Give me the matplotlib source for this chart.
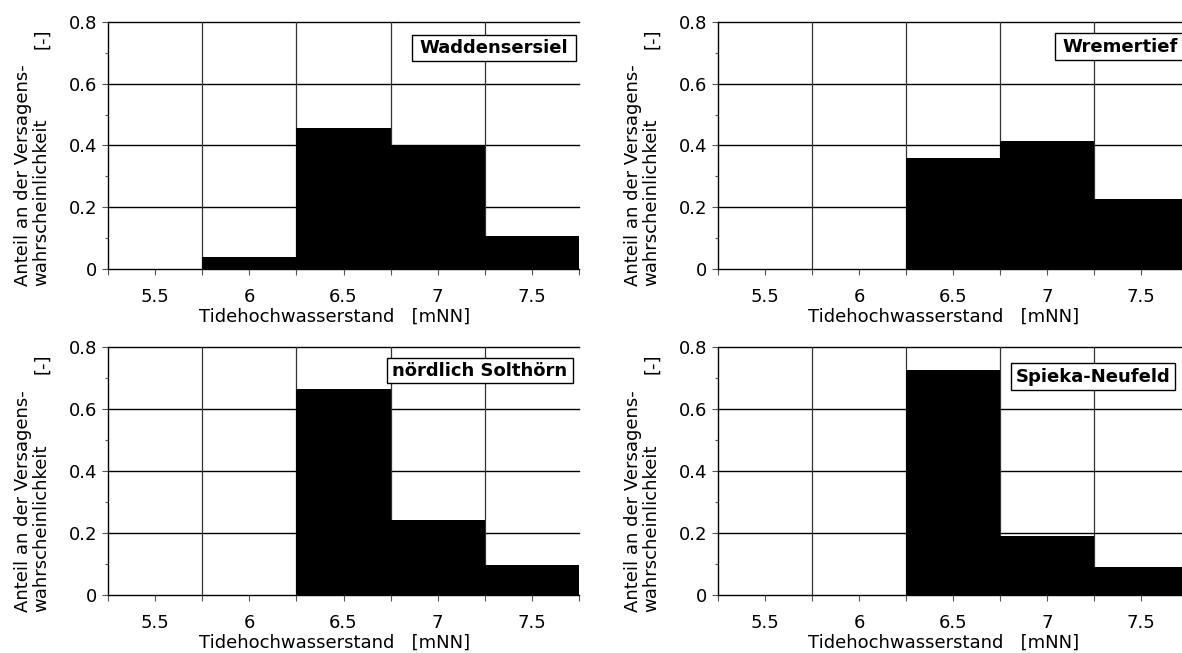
import matplotlib
matplotlib.use("Agg")
import matplotlib.pyplot as plt
from matplotlib.patches import Rectangle
from matplotlib.ticker import FixedLocator

plt.rcParams['font.family'] = ['DejaVu Sans']

# ---- data ----
water_levels = [5.5, 6.0, 6.5, 7.0, 7.5]
tick_labels = ["5.5", "6", "6.5", "7", "7.5"]
waddensersiel = [0.0, 0.039, 0.457, 0.402, 0.107]
wremertief = [0.0, 0.0, 0.36, 0.416, 0.226]
solthoern = [0.0, 0.0, 0.666, 0.241, 0.097]
spieka = [0.0, 0.0, 0.726, 0.189, 0.089]
station_names = ["Waddensersiel", "Wremertief", "nördlich Solthörn", "Spieka-Neufeld"]
series = [waddensersiel, wremertief, solthoern, spieka]
y_ticks = [0, 0.2, 0.4, 0.6, 0.8]
y_tick_labels = ["0", "0.2", "0.4", "0.6", "0.8"]
xlabel = "Tidehochwasserstand   [mNN]"
ylabel = "Anteil an der Versagens-\nwahrscheinlichkeit"

FS = 13
W, H = 1182, 653
fig = plt.figure(figsize=(W / 100, H / 100), dpi=100)

# axes rects in pixels: left, top, width, height
rects = [(108, 22, 471, 247), (718, 22, 470, 247),
         (108, 347, 471, 248), (718, 347, 470, 248)]
# label boxes in pixels: x0, y0(top), x1, y1(bottom)
boxes = [(412, 35, 576, 61), (1055, 33, 1186, 60),
         (387, 358, 573, 383), (1011, 363, 1175, 390)]

for i, (rect, vals, name, box) in enumerate(zip(rects, series, station_names, boxes)):
    l, t, w, h = rect
    ax = fig.add_axes([l / W, 1 - (t + h) / H, w / W, h / H])
    ax.set_axisbelow(True)
    ax.bar(water_levels, vals, width=0.5, color='black', edgecolor='none', zorder=2)
    ax.set_xlim(5.25, 7.75)
    ax.set_ylim(0, 0.8)
    ax.set_xticks(water_levels)
    ax.set_xticklabels(tick_labels)
    ax.xaxis.set_minor_locator(FixedLocator([5.25, 5.75, 6.25, 6.75, 7.25, 7.75]))
    ax.set_yticks(y_ticks)
    ax.set_yticklabels(y_tick_labels)
    ax.yaxis.set_minor_locator(FixedLocator([0.1, 0.3, 0.5, 0.7]))
    ax.tick_params(axis='x', which='both', direction='out', length=4, width=0.8,
                   labelsize=FS, pad=10, color='#555555')
    ax.tick_params(axis='y', which='major', direction='out', length=4, width=0.8,
                   labelsize=FS, pad=4, color='#555555')
    ax.tick_params(axis='y', which='minor', direction='out', length=2.5, width=0.8,
                   color='#555555')
    for s in ['top', 'right']:
        ax.spines[s].set_visible(False)
    for s in ['left', 'bottom']:
        ax.spines[s].set_linewidth(1.0)
        ax.spines[s].set_color('black')
    # grid
    for yv in [0.2, 0.4, 0.6, 0.8]:
        ax.axhline(yv, color='black', lw=1.0, zorder=1, clip_on=False)
    for xv in [5.75, 6.25, 6.75, 7.25]:
        ax.axvline(xv, color='#333333', lw=0.9, zorder=1)
    ax.set_xlabel(xlabel, fontsize=FS, labelpad=1, x=0.48)

    # box with station name
    bx0, by0, bx1, by1 = box
    ax_x0 = (bx0 - l) / w
    ax_x1 = (bx1 - l) / w
    ax_y1 = 1 - (by0 - t) / h
    ax_y0 = 1 - (by1 - t) / h
    ax.add_patch(Rectangle((ax_x0, ax_y0), ax_x1 - ax_x0, ax_y1 - ax_y0,
                           transform=ax.transAxes, facecolor='white',
                           edgecolor='black', lw=1.0, zorder=5, clip_on=False))
    ax.text((ax_x0 + ax_x1) / 2, (ax_y0 + ax_y1) / 2, name, transform=ax.transAxes,
            ha='center', va='center', fontsize=FS, fontweight='bold', zorder=6)

    # y label
    fig.text((l - 75.5) / W, 1 - (t + h + 17) / H, ylabel, rotation=90,
             ha='center', va='bottom', multialignment='left', fontsize=FS,
             linespacing=1.0)
    fig.text((l - 66) / W, 1 - (t + 17) / H, "[-]", rotation=90,
             ha='center', va='center', fontsize=FS)

fig.savefig("out.png", dpi=100)
